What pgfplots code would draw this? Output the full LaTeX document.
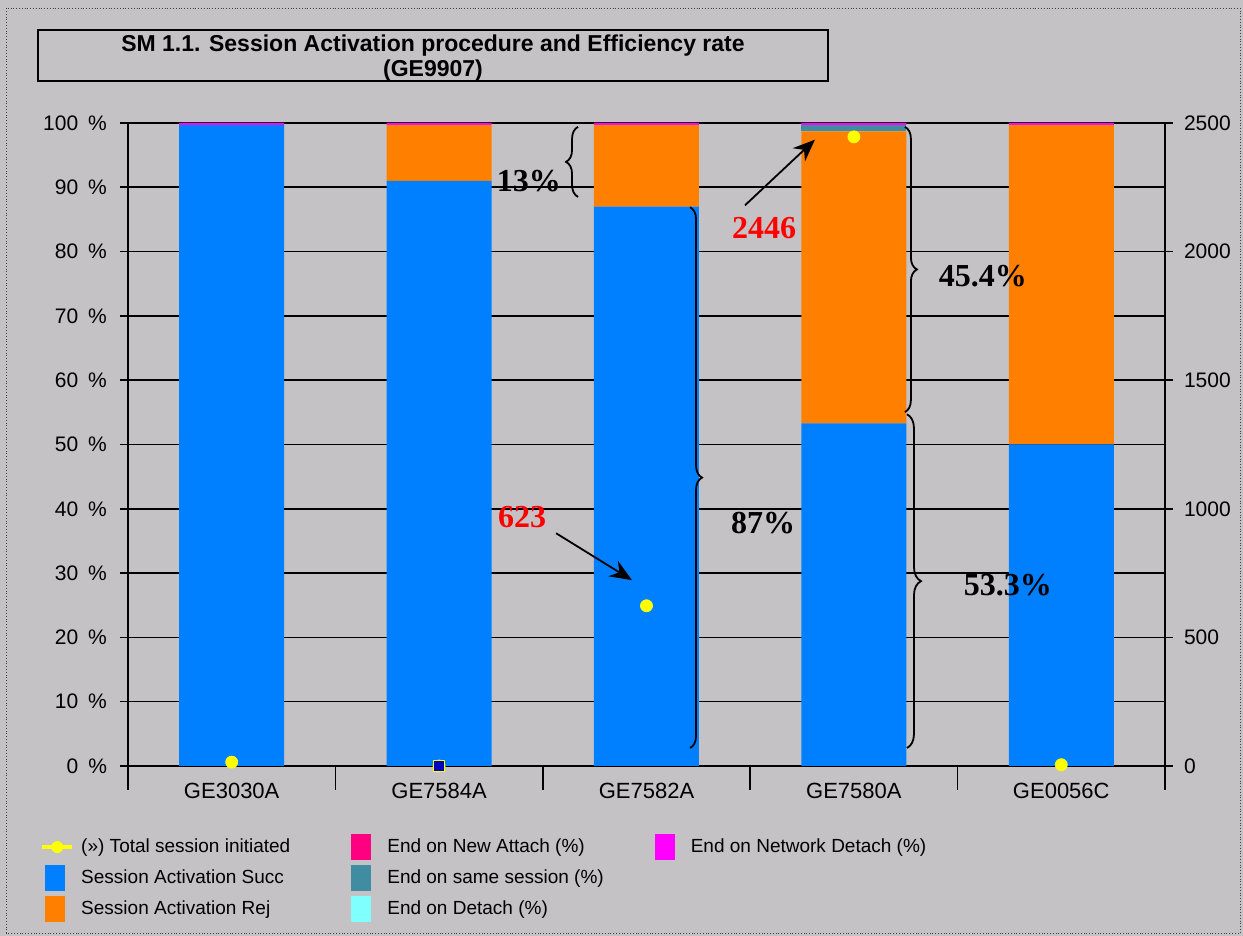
\documentclass[border=0pt]{standalone}
\usepackage{pgfplots}
\pgfplotsset{compat=1.18}
\usepackage{fontspec}
\setmainfont{Liberation Sans}
\newfontfamily\timesfont{Liberation Serif}
\usetikzlibrary{decorations.pathreplacing,arrows.meta}
\definecolor{bg}{RGB}{196,194,196}
\definecolor{succ}{RGB}{0,128,255}
\definecolor{rej}{RGB}{255,128,0}
\definecolor{newatt}{RGB}{255,0,128}
\definecolor{same}{RGB}{64,140,160}
\definecolor{detach}{RGB}{128,255,255}
\definecolor{netdet}{RGB}{255,0,255}
\definecolor{mkyellow}{RGB}{255,255,0}

\pgfplotstableread{
x succ rej newatt same detach netdet
0 99.7 0    0 0   0 0.3
1 91.0 8.7  0 0   0 0.3
2 87.0 12.7 0 0   0 0.3
3 53.3 45.4 0 1.0 0 0.3
4 50.0 49.7 0 0   0 0.3
}\pct

\pgfplotstableread{
x total
0 15
1 0
2 623
3 2446
4 5
}\tot

\newcommand{\boxkey}[1]{\addlegendimage{legend image code/.code={\path[draw=none,fill=none] (0pt,0pt) rectangle (17.5pt,0pt); \fill[#1,draw=none] (1.5pt,-6.5pt) rectangle (11.5pt,6.5pt);}}}
\tikzset{annot/.style={font=\timesfont\bfseries\fontsize{16}{18}\selectfont},
  br/.style={decorate, decoration={brace, amplitude=#1}, line width=0.9pt}}

\begin{document}
\begin{tikzpicture}
\fill[bg] (0,0) rectangle (621.5pt,468pt);
\draw[densely dotted, gray!50!black] (3pt,1.5pt) rectangle (620pt,464pt);
\draw[black, line width=0.8pt] (19pt,427.5pt) rectangle (414pt,453pt);
\node[font=\bfseries\fontsize{11.5}{12.5}\selectfont, align=center] at (216.5pt,439pt) {SM 1.1. Session Activation procedure and Efficiency rate\\(GE9907)};

\begin{axis}[
  at={(64pt,85pt)}, anchor=south west, scale only axis,
  width=518.5pt, height=321.5pt,
  ybar stacked, bar width=52.5pt,
  xmin=-0.5, xmax=4.5, ymin=0, ymax=100,
  axis x line*=bottom, axis y line*=left,
  axis line style={black, line width=0.8pt},
  xtick={0,1,2,3,4},
  xticklabels={GE3030A,GE7584A,GE7582A,GE7580A,GE0056C},
  xtick style={draw=none},
  ytick={0,10,...,100},
  yticklabel={\pgfmathprintnumber{\tick}\hspace{5pt}\%},
  tick align=outside, major tick length=4pt,
  ytick style={black, line width=0.8pt},
  ymajorgrids, grid style={black, line width=0.8pt},
  /pgf/number format/assume math mode=true,
  tick label style={font=\fontsize{10.5}{12}\selectfont, black},
  xticklabel style={font=\fontsize{11}{12}\selectfont, yshift=-1pt},
  yticklabel style={xshift=-3pt},
  clip=false,
  legend style={at={(-0.0908,-0.099)}, anchor=north west, draw=none, fill=none,
    font=\fontsize{9.5}{11}\selectfont, row sep=2.5pt,
    /tikz/column 2/.style={column sep=27pt},
    /tikz/column 4/.style={column sep=22pt}},
  legend cell align=left,
  legend columns=3,
]
\addplot[fill=succ, draw=none, forget plot] table[x=x, y=succ] {\pct};
\addplot[fill=rej, draw=none, forget plot] table[x=x, y=rej] {\pct};
\addplot[fill=newatt, draw=none, forget plot] table[x=x, y=newatt] {\pct};
\addplot[fill=same, draw=none, forget plot] table[x=x, y=same] {\pct};
\addplot[fill=detach, draw=none, forget plot] table[x=x, y=detach] {\pct};
\addplot[fill=netdet, draw=none, forget plot] table[x=x, y=netdet] {\pct};

\addlegendimage{legend image code/.code={\path[draw=none,fill=none] (0pt,0pt) rectangle (17.5pt,0pt); \draw[mkyellow, line width=2pt] (0pt,0pt) -- (15pt,0pt); \fill[mkyellow,draw=none] (7.5pt,0pt) circle (3pt);}}
\addlegendentry{(») Total session initiated}
\boxkey{newatt}
\addlegendentry{End on New Attach (\%)}
\boxkey{netdet}
\addlegendentry{End on Network Detach (\%)}
\boxkey{succ}
\addlegendentry{Session Activation Succ}
\boxkey{same}
\addlegendentry{End on same session (\%)}
\addlegendimage{empty legend}
\addlegendentry{}
\boxkey{rej}
\addlegendentry{Session Activation Rej}
\boxkey{detach}
\addlegendentry{End on Detach (\%)}
\end{axis}

\begin{axis}[
  at={(64pt,85pt)}, anchor=south west, scale only axis,
  width=518.5pt, height=321.5pt,
  xmin=-0.5, xmax=4.5, ymin=0, ymax=2500,
  hide x axis, axis y line*=right,
  axis line style={black, line width=0.8pt},
  ytick={0,500,...,2500},
  tick align=outside, major tick length=4pt,
  ytick style={black, line width=0.8pt},
  /pgf/number format/assume math mode=true,
  /pgf/number format/1000 sep={},
  tick label style={font=\fontsize{10.5}{12}\selectfont, black},
  yticklabel style={xshift=2pt},
  clip=false,
]
\foreach \s in {-0.5,0.5,1.5,2.5,3.5,4.5} {
  \edef\tmp{\noexpand\draw[black, line width=0.8pt] (axis cs:\s,0) -- ([yshift=-12pt]axis cs:\s,0);}\tmp
}
% annotations
\node[annot] at (axis cs:1.433,2275) {13\%};
\draw[br=6pt] (axis cs:1.67,2212.5) -- (axis cs:1.67,2485);
\draw[br=6pt] (axis cs:2.21,2172.5) -- (axis cs:2.21,70);
\node[annot] at (axis cs:2.562,945) {87\%};
\draw[br=6pt] (axis cs:3.246,2485) -- (axis cs:3.246,1376);
\node[annot] at (axis cs:3.622,1905) {45.4\%};
\draw[br=7pt] (axis cs:3.256,1367.5) -- (axis cs:3.256,70);
\node[annot] at (axis cs:3.743,702.5) {53.3\%};
\node[annot, text=red] at (axis cs:2.567,2092.5) {2446};
\draw[-{Stealth[length=11pt,width=9pt]}, line width=0.9pt] (axis cs:2.475,2180) -- (axis cs:2.812,2435);
\node[annot, text=red] at (axis cs:1.40,967.5) {623};
\draw[-{Stealth[length=11pt,width=9pt]}, line width=0.9pt] (axis cs:1.564,905) -- (axis cs:1.93,722.5);

\addplot[only marks, mark=*, mark size=3pt, mark options={draw=mkyellow, fill=mkyellow}] table[x=x, y=total] {\tot};
\addplot[only marks, mark=square*, mark size=2.8pt, mark options={draw=mkyellow, fill=blue!75!black}] coordinates {(1,0)};
\end{axis}
\end{tikzpicture}
\end{document}
